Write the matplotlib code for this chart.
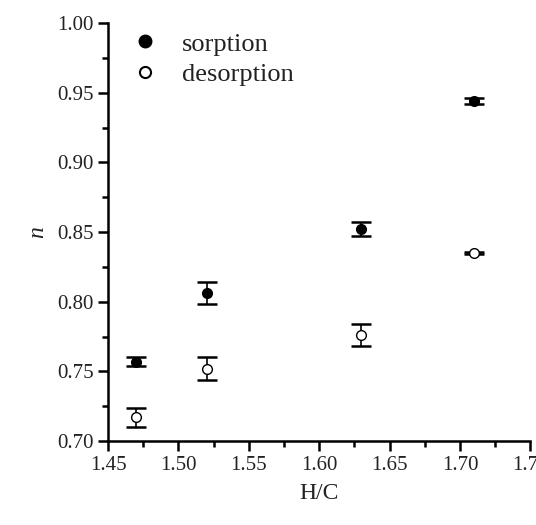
import numpy as np
import matplotlib.pyplot as plt
from matplotlib.ticker import MultipleLocator
from matplotlib.lines import Line2D

plt.rcParams['font.family'] = 'serif'
plt.rcParams['font.serif'] = ['Liberation Serif', 'Times New Roman', 'DejaVu Serif']

hc = [1.47, 1.52, 1.63, 1.71]
sorption = [0.757, 0.806, 0.852, 0.944]
sorption_err = [0.003, 0.008, 0.005, 0.002]
desorption = [0.717, 0.752, 0.776, 0.835]
desorption_err = [0.007, 0.008, 0.008, 0.001]

fig = plt.figure(figsize=(5.36, 5.25), dpi=100)
ax = fig.add_axes([0.2015, 0.16, 0.788, 0.796])

ax.errorbar(hc, sorption, yerr=sorption_err, fmt='o', color='black',
            mfc='black', ms=7, capsize=7, capthick=1.8, elinewidth=1.2)
ax.errorbar(hc, desorption, yerr=desorption_err, fmt='o', color='black',
            mfc='white', ms=7, capsize=7, capthick=1.8, elinewidth=1.2)

ax.set_xlim(1.45, 1.75)
ax.set_ylim(0.70, 1.00)
ax.xaxis.set_major_locator(MultipleLocator(0.05))
ax.xaxis.set_minor_locator(MultipleLocator(0.025))
ax.yaxis.set_major_locator(MultipleLocator(0.05))
ax.yaxis.set_minor_locator(MultipleLocator(0.025))
ax.xaxis.set_major_formatter(plt.FormatStrFormatter('%.2f'))
ax.yaxis.set_major_formatter(plt.FormatStrFormatter('%.2f'))

for s in ['top', 'right']:
    ax.spines[s].set_visible(False)
for s in ['left', 'bottom']:
    ax.spines[s].set_linewidth(1.8)
ax.tick_params(which='major', direction='out', length=7, width=1.8,
               labelsize=15, labelcolor='#222222')
ax.tick_params(which='minor', direction='out', length=4, width=1.8)

ax.set_xlabel('H/C', fontsize=17, color='#222222', labelpad=6)
ax.set_ylabel('n', fontsize=17, style='italic', color='#222222', labelpad=6)

handles = [Line2D([], [], ls='none', marker='o', color='black', mfc='black', ms=9),
           Line2D([], [], ls='none', marker='o', color='black', mfc='white', ms=8,
                  mew=1.5)]
ax.legend(handles, ['sorption', 'desorption'], loc='upper left',
          bbox_to_anchor=(0.0, 1.035), frameon=False, fontsize=19,
          handletextpad=0.9, labelspacing=0.25, handlelength=1.0,
          labelcolor='#222222')

fig.savefig('out.png', dpi=100)
